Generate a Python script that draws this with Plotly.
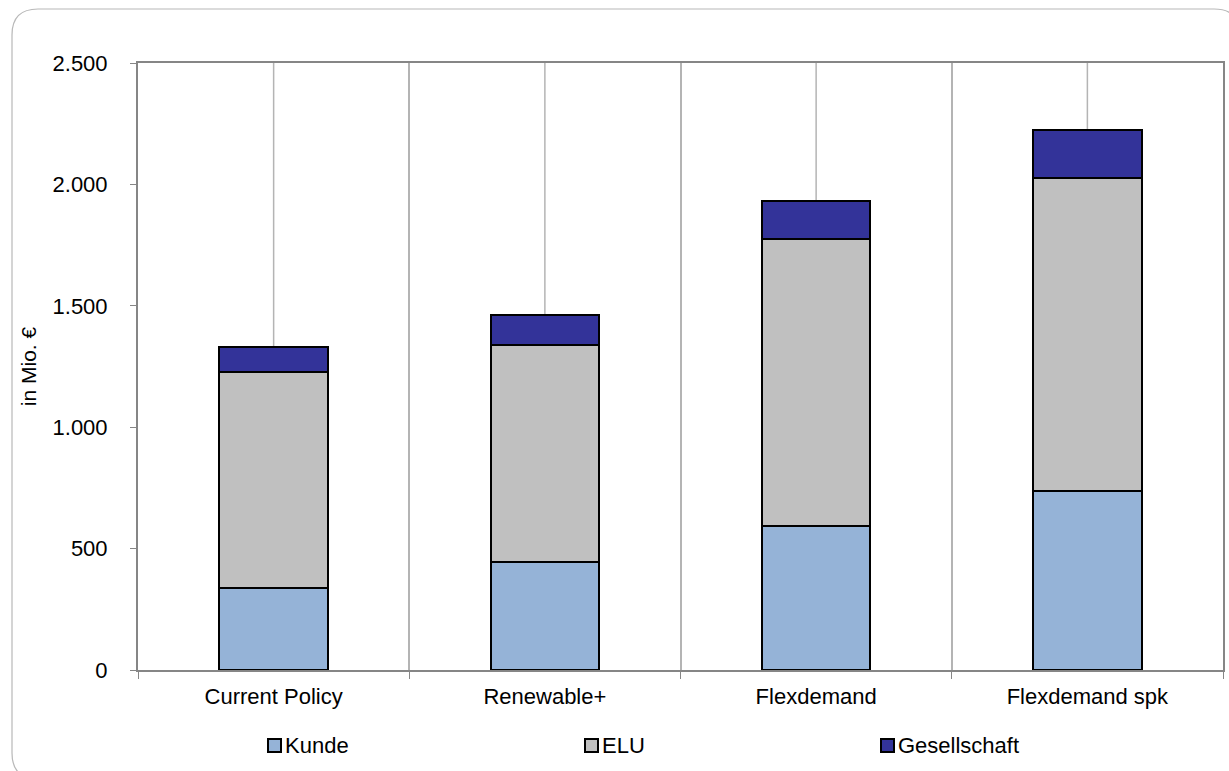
import plotly.graph_objects as go

# Szenarien und Verteilung der Wohlfahrtseffekte (in Mio. €)
categories = ["Current Policy", "Renewable+", "Flexdemand", "Flexdemand spk"]
kunde = [337, 446, 595, 739]
elu = [892, 893, 1180, 1287]
gesellschaft = [102, 124, 155, 199]

series_names = ["Kunde", "ELU", "Gesellschaft"]
series_values = [kunde, elu, gesellschaft]
series_colors = ["#95B3D7", "#C0C0C0", "#333399"]

y_ticks = [0, 500, 1000, 1500, 2000, 2500]

W, H = 1229, 771
ML, MR, MT, MB = 138, 6, 63, 101
PW, PH = W - ML - MR, H - MT - MB
FONT = "Liberation Sans, Arial, sans-serif"


def px_x(v):
    return (v - ML) / PW


def px_y(v):
    return (H - MB - v) / PH


fig = go.Figure()
for name, vals, col in zip(series_names, series_values, series_colors):
    fig.add_trace(go.Bar(
        x=categories, y=vals, name=name,
        marker=dict(color=col, line=dict(color="#000000", width=2)),
        showlegend=False,
    ))

shapes = []
# vertical lines through the category centres
for c in categories:
    shapes.append(dict(type="line", xref="x", yref="y", x0=c, x1=c, y0=0, y1=y_ticks[-1],
                       line=dict(color="#b4b4b4", width=1.5), layer="below"))

# rounded outer frame
x0, y0, x1, y1, r = 12, 9, 1240, 779, 26
path = (f"M {px_x(x0 + r)},{px_y(y0)} L {px_x(x1 - r)},{px_y(y0)} "
        f"Q {px_x(x1)},{px_y(y0)} {px_x(x1)},{px_y(y0 + r)} "
        f"L {px_x(x1)},{px_y(y1 - r)} Q {px_x(x1)},{px_y(y1)} {px_x(x1 - r)},{px_y(y1)} "
        f"L {px_x(x0 + r)},{px_y(y1)} Q {px_x(x0)},{px_y(y1)} {px_x(x0)},{px_y(y1 - r)} "
        f"L {px_x(x0)},{px_y(y0 + r)} Q {px_x(x0)},{px_y(y0)} {px_x(x0 + r)},{px_y(y0)} Z")
shapes.append(dict(type="path", xref="paper", yref="paper", path=path,
                   line=dict(color="#b8b8b8", width=1.2), layer="below"))

# legend entries
annotations = []
legend_x = [268, 585, 881]
legend_y = 745.5
sq = 13
for name, col, lx in zip(series_names, series_colors, legend_x):
    shapes.append(dict(type="rect", xref="paper", yref="paper",
                       x0=px_x(lx), x1=px_x(lx + sq),
                       y0=px_y(legend_y - sq / 2), y1=px_y(legend_y + sq / 2),
                       fillcolor=col, line=dict(color="#000000", width=2)))
    annotations.append(dict(xref="paper", yref="paper", x=px_x(lx + sq + 2), y=px_y(legend_y),
                            text=name, showarrow=False, xanchor="left", yanchor="middle",
                            font=dict(family=FONT, size=22, color="#000000")))

fig.update_layout(
    width=W, height=H,
    margin=dict(l=ML, r=MR, t=MT, b=MB, autoexpand=False),
    barmode="stack", bargap=0.6,
    paper_bgcolor="#ffffff", plot_bgcolor="#ffffff",
    separators=",.",
    font=dict(family=FONT, size=22, color="#000000"),
    shapes=shapes, annotations=annotations,
    showlegend=False,
    xaxis=dict(
        type="category", tickson="boundaries", ticks="outside", ticklen=7,
        tickcolor="#868686", showgrid=True, gridcolor="#b4b4b4", gridwidth=1.5,
        showline=True, linecolor="#868686", linewidth=2, mirror=True,
        tickfont=dict(family=FONT, size=22), ticklabelstandoff=6,
    ),
    yaxis=dict(
        range=[0, 2500], tickvals=y_ticks, tickformat=",d",
        ticks="outside", ticklen=6, tickcolor="#868686", showgrid=False,
        showline=True, linecolor="#868686", linewidth=2, mirror=True,
        tickfont=dict(family=FONT, size=22), ticklabelstandoff=18,
        title=dict(text="in Mio. €", font=dict(family=FONT, size=21), standoff=10),
        zeroline=False,
    ),
)

fig.write_html("out.html")
